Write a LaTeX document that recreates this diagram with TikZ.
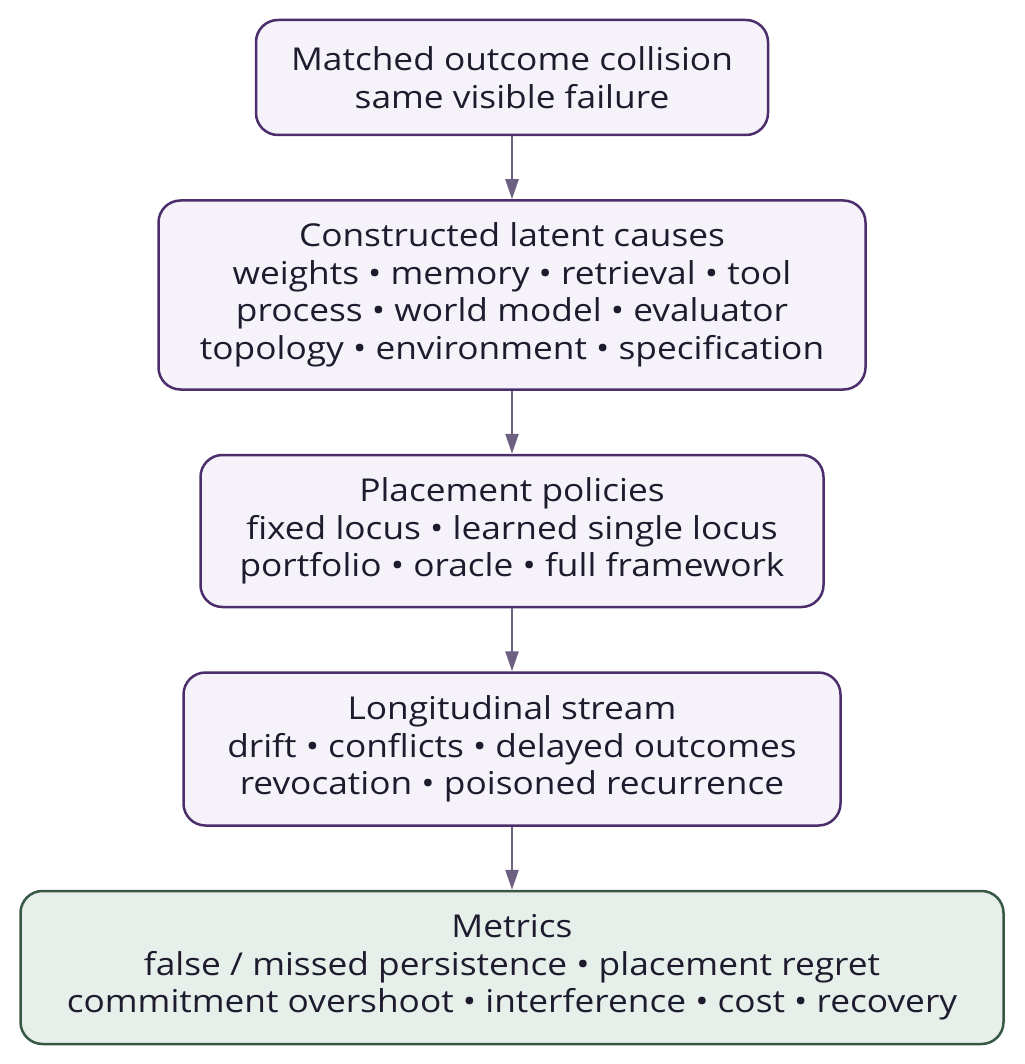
\documentclass[tikz,border=0pt]{standalone}
\usepackage{fontspec}
\setmainfont[FakeStretch=1.12]{Open Sans}
\usetikzlibrary{positioning, arrows.meta}
\definecolor{boxpurple}{RGB}{75,46,107}
\definecolor{boxfill}{RGB}{245,243,249}
\definecolor{metgreen}{RGB}{55,88,66}
\definecolor{metfill}{RGB}{230,239,234}
\definecolor{arrowgray}{RGB}{110,96,128}
\definecolor{inkdark}{RGB}{30,27,46}

\begin{document}
\begin{tikzpicture}[x=1pt, y=-1pt,
  stage/.style={rectangle, rounded corners=22pt, draw=boxpurple, fill=boxfill,
                line width=2.5pt, align=center, inner sep=0pt, text=inkdark,
                font=\fontsize{31.5}{37.5}\selectfont},
  metric/.style={stage, draw=metgreen, fill=metfill},
  arr/.style={-{Triangle[length=20pt, width=13pt]}, line width=2.5pt, color=arrowgray},
  node distance=63pt
]
  \useasboundingbox (0,0) rectangle (1024,1064);

  \node[stage, minimum width=512pt, minimum height=115pt] (collide) at (512,77.5)
    {Matched outcome collision\\same visible failure};
  \node[stage, below=of collide, minimum width=707pt, minimum height=189pt] (causes)
    {Constructed latent causes\\weights • memory • retrieval • tool\\process • world model • evaluator\\topology • environment • specification};
  \node[stage, below=of causes, minimum width=623pt, minimum height=152pt] (place)
    {Placement policies\\fixed locus • learned single locus\\portfolio • oracle • full framework};
  \node[stage, below=of place, minimum width=657pt, minimum height=153pt] (stream)
    {Longitudinal stream\\drift • conflicts • delayed outcomes\\revocation • poisoned recurrence};
  \node[metric, below=of stream, minimum width=983pt, minimum height=153pt] (metrics)
    {Metrics\\false / missed persistence • placement regret\\commitment overshoot • interference • cost • recovery};

  \draw[arr] (collide) -- (causes);
  \draw[arr] (causes)  -- (place);
  \draw[arr] (place)   -- (stream);
  \draw[arr] (stream)  -- (metrics);
\end{tikzpicture}
\end{document}
